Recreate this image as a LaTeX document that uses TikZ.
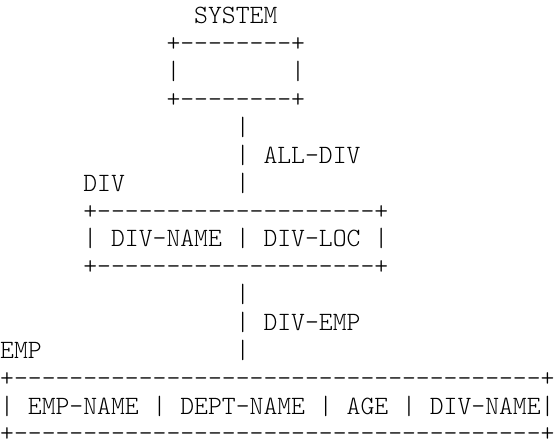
\documentclass[tikz,border=0pt]{standalone}
\usepackage{fontspec}
\setmonofont{lmmonolt10-regular.otf}
\newcommand{\dashline}[1]{+\foreach \k in {1,...,#1}{\kern0pt-\kern0pt}+}
\tikzset{
  ascii/.style={anchor=base west, inner sep=0pt,
                font=\ttfamily\fontsize{26.4}{30}\selectfont},
}

\begin{document}
\begin{tikzpicture}[x=13.86pt, y=-27.87pt]

  \useasboundingbox (0,-0.86) rectangle (40.19,15.07);

  % SYSTEM
  \node[ascii] (system)   at (14,0) {SYSTEM};
  \node[ascii] (systop)   at (12,1) {\dashline{8}};
  \node[ascii] (sysleft)  at (12,2) {|};
  \node[ascii] (sysright) at (21,2) {|};
  \node[ascii] (sysbot)   at (12,3) {\dashline{8}};

  % ALL-DIV set
  \node[ascii] (alla)   at (17,4) {|};
  \node[ascii] (allb)   at (17,5) {|};
  \node[ascii] (alldiv) at (19,5) {ALL-DIV};
  \node[ascii] (allc)   at (17,6) {|};

  % DIV record
  \node[ascii] (div)    at (6,6) {DIV};
  \node[ascii] (divtop) at (6,7) {\dashline{20}};
  \node[ascii] (divrow) at (6,8) {| DIV-NAME | DIV-LOC |};
  \node[ascii] (divbot) at (6,9) {\dashline{20}};

  % DIV-EMP set
  \node[ascii] (empa)   at (17,10) {|};
  \node[ascii] (empb)   at (17,11) {|};
  \node[ascii] (divemp) at (19,11) {DIV-EMP};
  \node[ascii] (empc)   at (17,12) {|};

  % EMP record
  \node[ascii] (emp)    at (0,12) {EMP};
  \node[ascii] (emptop) at (0,13) {\dashline{38}};
  \node[ascii] (emprow) at (0,14) {| EMP-NAME | DEPT-NAME | AGE | DIV-NAME|};
  \node[ascii] (empbot) at (0,15) {\dashline{38}};

\end{tikzpicture}
\end{document}
